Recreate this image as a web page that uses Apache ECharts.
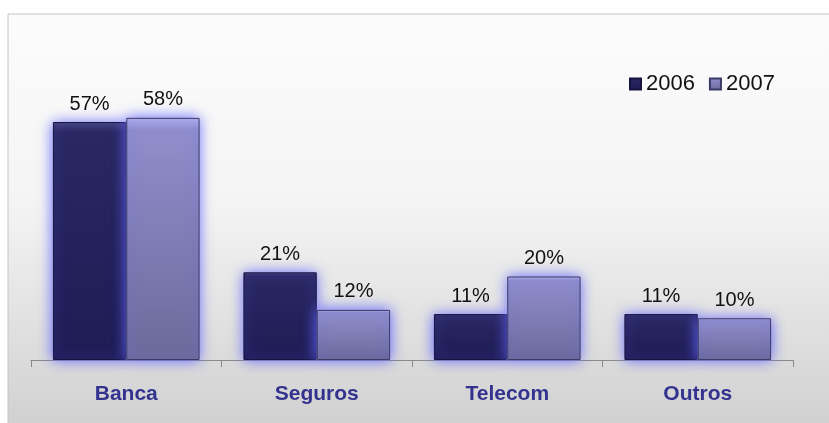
<!DOCTYPE html>
<html><head><meta charset="utf-8">
<script src="https://cdn.jsdelivr.net/npm/echarts@6/dist/echarts.min.js"></script>
<style>html,body{margin:0;padding:0;background:#fff}#c{width:829px;height:423px}</style>
</head><body><div id="c"></div>
<script>
const categories = ['Banca', 'Seguros', 'Telecom', 'Outros'];
const seriesNames = ['2006', '2007'];
const values2006 = [57, 21, 11, 11];
const values2007 = [58, 12, 20, 10];

const chart = echarts.init(document.getElementById('c'));
const glow = { shadowColor: 'rgba(100,100,255,1)', shadowBlur: 13 };
const lbl = { show: true, position: 'top', distance: 8, formatter: '{c}%', fontFamily: 'Liberation Sans', fontSize: 20, color: '#111' };
chart.setOption({
  animation: false,
  graphic: [{
    type: 'rect', z: -10, silent: true,
    shape: { x: 8, y: 14, width: 830, height: 420 },
    style: {
      fill: new echarts.graphic.LinearGradient(0, 0, 0, 1, [
        { offset: 0, color: '#fcfcfc' }, { offset: 0.45, color: '#f4f4f4' }, { offset: 1, color: '#cfcfcf' }
      ]),
      stroke: '#c4c4c4', lineWidth: 1
    }
  }],
  legend: {
    data: seriesNames, left: 624, top: 68, itemWidth: 11, itemHeight: 11, itemGap: 14,
    icon: 'rect',
    textStyle: { fontFamily: 'Liberation Sans', fontSize: 22, color: '#111' }
  },
  grid: { left: 31, right: 36, top: 26, bottom: 63 },
  xAxis: {
    type: 'category', data: categories,
    axisLine: { lineStyle: { color: '#8a8a8a', width: 1 } },
    axisTick: { show: true, length: 7, lineStyle: { color: '#8a8a8a' } },
    axisLabel: { margin: 24, fontFamily: 'Liberation Sans', fontWeight: 'bold', fontSize: 21, color: '#33338f' }
  },
  yAxis: { type: 'value', min: 0, max: 80, show: false, splitLine: { show: false } },
  series: [{
    name: seriesNames[0], type: 'bar', data: values2006, barGap: '0%', barCategoryGap: '23%',
    itemStyle: Object.assign({
      color: new echarts.graphic.LinearGradient(0, 0, 0, 1, [
        { offset: 0, color: '#45437c' }, { offset: 0.04, color: '#2a2862' }, { offset: 1, color: '#1e1c55' }
      ]), borderColor: '#16143f', borderWidth: 1
    }, glow),
    label: lbl
  }, {
    name: seriesNames[1], type: 'bar', data: values2007,
    itemStyle: Object.assign({
      color: new echarts.graphic.LinearGradient(0, 0, 0, 1, [
        { offset: 0, color: '#b4b2ee' }, { offset: 0.05, color: '#908ecc' }, { offset: 1, color: '#6c6a9a' }
      ]), borderColor: '#3c3a66', borderWidth: 1
    }, glow),
    label: lbl
  }]
});
</script></body></html>
